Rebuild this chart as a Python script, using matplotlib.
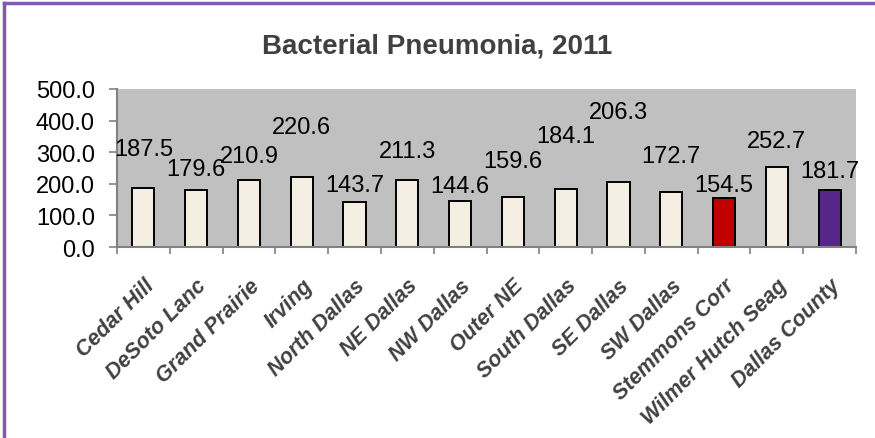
import matplotlib.pyplot as plt
import numpy as np

plt.rcParams['font.family'] = ['Liberation Sans', 'DejaVu Sans']

areas = ["Cedar Hill", "DeSoto Lanc", "Grand Prairie", "Irving", "North Dallas",
         "NE Dallas", "NW Dallas", "Outer NE", "South Dallas", "SE Dallas",
         "SW Dallas", "Stemmons Corr", "Wilmer Hutch Seag", "Dallas County"]
rates = [187.5, 179.6, 210.9, 220.6, 143.7, 211.3, 144.6, 159.6, 184.1,
         206.3, 172.7, 154.5, 252.7, 181.7]

# where each value label sits (data units, centre of text)
label_y = [310, 247, 288, 380, 196, 304, 193, 272, 351, 427, 288, 196, 335, 240]

colors = ["#F5EEE2"] * len(areas)
colors[11] = "#C00000"
colors[13] = "#542788"

fig = plt.figure(figsize=(8.75, 4.39), dpi=100)
ax = fig.add_axes([0.1337, 0.435, 0.8446, 0.36])
ax.set_facecolor("#C0C0C0")

x = np.arange(len(areas))
ax.bar(x, rates, width=0.42, color=colors, edgecolor="black", linewidth=1.4, zorder=2)

for xi, v, ly in zip(x, rates, label_y):
    ax.text(xi, ly, f"{v:.1f}", ha="center", va="center", fontsize=17, color="black")

ax.set_xlim(-0.5, len(areas) - 0.5)
ax.set_ylim(0, 500)
ax.set_yticks(np.arange(0, 501, 100))
ax.set_yticklabels([f"{t:.1f}" for t in np.arange(0, 501, 100)], fontsize=17)

ax.set_xticks(x)
ax.set_xticklabels(areas, rotation=45, ha="right", rotation_mode="anchor",
                   fontsize=15.5, fontweight="bold", fontstyle="italic", color="#404040")
ax.tick_params(axis="x", which="major", length=0, pad=20)
ax.set_xticks(np.arange(-0.5, len(areas), 1), minor=True)
ax.tick_params(axis="x", which="minor", length=5, color="#808080", width=1.2)
ax.tick_params(axis="y", length=6, color="#808080", width=1.2, pad=10)

for side in ["top", "right"]:
    ax.spines[side].set_visible(False)
for side in ["left", "bottom"]:
    ax.spines[side].set_color("#808080")
    ax.spines[side].set_linewidth(1.5)

fig.text(0.5, 0.895, "Bacterial Pneumonia, 2011", ha="center", va="center",
         fontsize=20, fontweight="bold", color="#404040")

# frame on the top and left edges of the figure
fig.add_artist(plt.Line2D([0.005, 0.005], [0, 0.99], color="#7F5AB0", linewidth=2.5,
                          transform=fig.transFigure))
fig.add_artist(plt.Line2D([0.005, 1.0], [0.99, 0.99], color="#7F5AB0", linewidth=2.5,
                          transform=fig.transFigure))

fig.savefig("out.png", dpi=100)
